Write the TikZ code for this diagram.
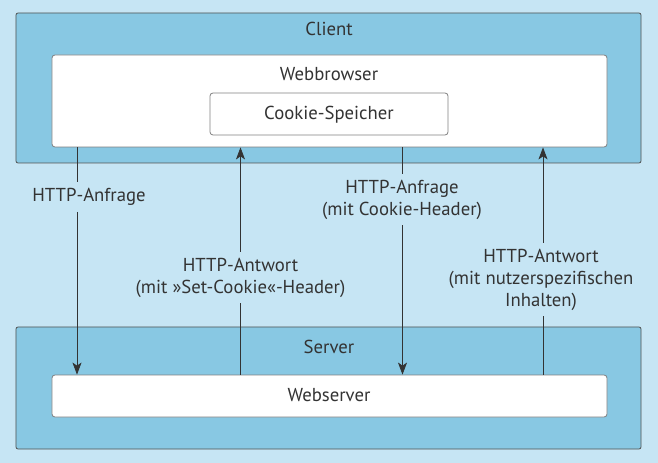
\documentclass[tikz,border=0pt]{standalone}
\usepackage{fontspec}
\setmainfont{PT Sans}
\usetikzlibrary{positioning,arrows.meta}
\definecolor{bgblue}{HTML}{C6E5F4}
\definecolor{boxblue}{HTML}{88C8E3}
\definecolor{linegray}{HTML}{333333}

\begin{document}
\begin{tikzpicture}[x=1bp,y=-1bp,
		outer/.style={draw=linegray!85,fill=boxblue,rounded corners=2bp,line width=0.8bp,minimum width=625bp},
		inner/.style={draw=gray,fill=white,rounded corners=3bp,line width=0.8bp},
		txt/.style={font=\fontsize{18.8}{22}\selectfont,text=linegray,inner sep=0pt,anchor=base},
		lbl/.style={font=\fontsize{18.8}{22}\selectfont,text=linegray,align=center,inner xsep=2bp,inner ysep=6bp},
		arr/.style={draw=linegray,line width=0.8bp},
		tip/.style={-{Stealth[length=12bp,width=9bp,inset=3bp]}}]
		\fill[bgblue] (0,0) rectangle (658,463);
		\useasboundingbox (0,0) rectangle (658,463);

		% client side
		\node[outer,minimum height=150bp]						(client)		at (328.5,88)	{};
		\node[txt]												(clientname)	at (329,36)		{Client};
		\node[inner,minimum width=555bp,minimum height=92bp]	(browser)		at (329.5,101)	{};
		\node[txt]												(browsername)	at (329,80.5)	{Webbrowser};
		\node[inner,minimum width=238bp,minimum height=42bp]	(cookie)		at (329,114)	{};
		\node[txt]												(cookiename)	at (329,119.5)	{Cookie-Speicher};

		% server side
		\node[outer,minimum height=122bp]						(server)		at (328.5,388)	{};
		\node[txt]												(servername)	at (329,353.5)	{Server};
		\node[inner,minimum width=555bp,minimum height=42bp]	(webserver)		at (329.5,396)	{};
		\node[txt]												(webservername)	at (329,401)	{Webserver};

		% arrows
		\coordinate (a1) at (77,0);
		\coordinate (a2) at (240.5,0);
		\coordinate (a3) at (402.5,0);
		\coordinate (a4) at (543,0);

		\node[lbl]	(req1)	at (89,197)		{HTTP-Anfrage};
		\node[lbl]	(res1)	at (240.5,277.5)	{HTTP-Antwort\\(mit »Set-Cookie«-Header)};
		\node[lbl]	(req2)	at (402,199.5)	{HTTP-Anfrage\\(mit Cookie-Header)};
		\node[lbl]	(res2)	at (541,279.5)	{HTTP-Antwort\\(mit nutzerspezifischen\\Inhalten)};

		\draw[arr]		(browser.south -| a1) -- (req1.north -| a1);
		\draw[arr,tip]	(req1.south -| a1) -- (webserver.north -| a1);
		\draw[arr]		(webserver.north -| a2) -- (res1.south -| a2);
		\draw[arr,tip]	(res1.north -| a2) -- (browser.south -| a2);
		\draw[arr]		(browser.south -| a3) -- (req2.north -| a3);
		\draw[arr,tip]	(req2.south -| a3) -- (webserver.north -| a3);
		\draw[arr]		(webserver.north -| a4) -- (res2.south -| a4);
		\draw[arr,tip]	(res2.north -| a4) -- (browser.south -| a4);
	\end{tikzpicture}
\end{document}
